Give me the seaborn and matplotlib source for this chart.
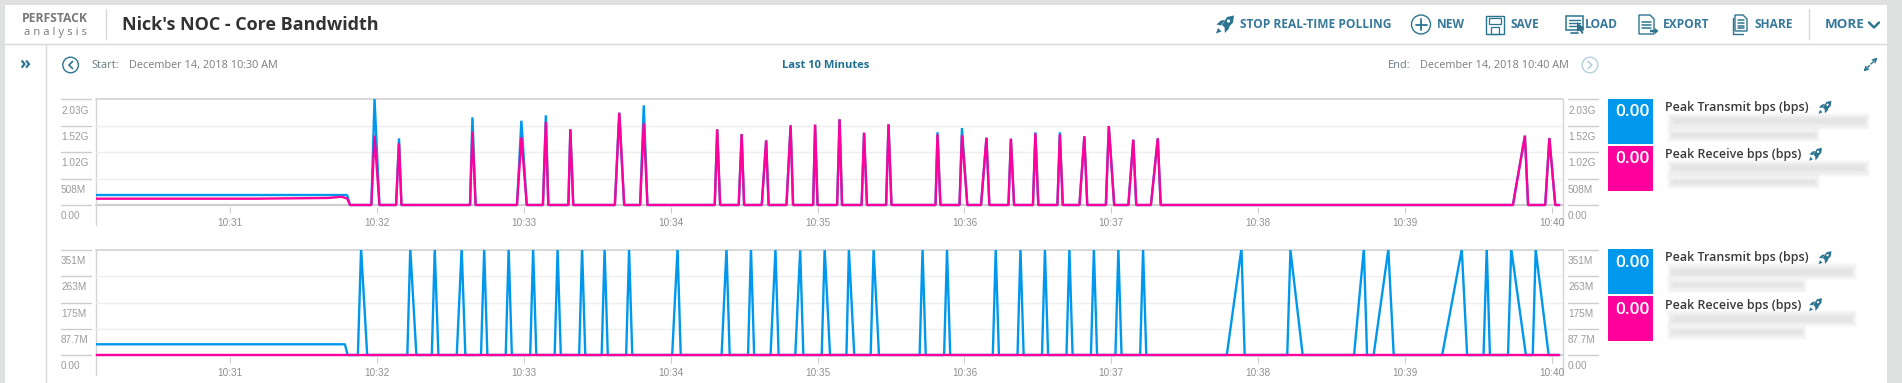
import pandas as pd
import matplotlib
matplotlib.use('Agg')
import matplotlib.pyplot as plt
import seaborn as sns
from matplotlib.patches import Rectangle, Circle, Polygon

W, H = 1902, 383
BLUE = '#0098ec'
PINK = '#ff009c'
TEAL = '#2b7490'

# seconds after 10:30, values in Mbps
top_start_sec = [5, 70, 100, 105.5, 107.8, 109]
top_tx_start = [192, 192, 192, 192, 192, 0]
top_rx_start = [121, 121, 135, 159, 125, 0]

top_peak_sec = [119, 129, 159, 179, 189, 199, 219, 229, 259, 269, 279, 289, 299, 309,
                319, 329, 349, 359, 369, 379, 389, 399, 409, 419, 429, 439, 589, 599]
top_before = [1.3, 1.2, 1, 1.8, 1.2, 0.8, 1.8, 1.5, 1, 1.2, 1.8, 1.7, 0.8, 1,
              1, 1, 0.8, 1, 2.2, 1, 1, 1, 2, 1.2, 2, 2.8, 4.9, 1.7]
top_after = [2, 1, 1.3, 2.2, 1, 1.2, 2, 1.5, 1.2, 1, 1, 1, 1, 1,
             1.2, 1.2, 1.2, 2.2, 1.2, 1.3, 1.2, 1.2, 1.2, 2.2, 1.2, 1.2, 1.3, 2.4]
top_tx_peak = [2040, 1280, 1684, 1619, 1722, 1453, 1772, 1914, 1453, 1363, 1242, 1530, 1542, 1645,
               1388, 1549, 1396, 1478, 1292, 1273, 1396, 1396, 1319, 1517, 1254, 1280, 1331, 1286]
top_rx_peak = [1331, 1184, 1408, 1299, 1594, 1453, 1772, 1568, 1453, 1363, 1242, 1530, 1542, 1645,
               1388, 1549, 1357, 1338, 1292, 1273, 1376, 1357, 1319, 1517, 1254, 1280, 1331, 1286]

bot_start_sec = [5, 106.9, 108]
bot_tx_start = [35.7, 35.7, 0]
bot_rx_start = [0, 0, 0]

bot_peak_sec = [113.5, 133.6, 143.6, 154.6, 163.8, 173.8, 183.8, 193.8, 203.8, 213, 223,
                242.8, 262.8, 272.8, 282.8, 292.9, 302.9, 312.8, 322.9, 342.9, 352.9,
                372.8, 382.9, 392.9, 402.9, 412.9, 422.9, 433, 473.2, 493.2, 523.2,
                533.2, 563.2, 573.4, 583.4, 593.4]
bot_before = [1.3, 1.2, 1.2, 2, 1.3, 1.2, 1.2, 1.2, 1.2, 1.2, 1.2,
              2.2, 2, 1.2, 2, 2, 1.2, 1, 1.2, 1.2, 1.2,
              1.2, 1.2, 1.2, 1.2, 1.2, 1.2, 1.2, 6, 1.3, 4,
              6, 8, 1.3, 1.3, 1.2]
bot_after = [2.5, 2.5, 1.5, 1.5, 1.3, 1.3, 1.3, 1.3, 1.3, 1.3, 1.3,
             1.3, 1.3, 1.3, 1.3, 1.3, 2.2, 2.2, 2.2, 1.3, 1.3,
             1.3, 1.3, 1.3, 1.3, 1.3, 1.3, 1.3, 1.3, 5, 1.3,
             2.2, 2.2, 1.3, 6, 5.3]
bot_tx_peak = [355, 355, 352, 355, 352, 355, 352, 352, 355, 355, 352,
               355, 355, 355, 352, 349, 355, 352, 352, 352, 352,
               352, 355, 352, 352, 352, 352, 352, 355, 350, 355,
               352, 352, 355, 355, 350]
end_sec = 603

tick_sec = [60, 120, 180, 240, 300, 360, 420, 480, 540, 600]
tick_labels = ['10:31', '10:32', '10:33', '10:34', '10:35', '10:36', '10:37', '10:38', '10:39', '10:40']
top_ticks = [0, 508, 1020, 1520, 2030]
top_tick_labels = ['0.00', '508M', '1.02G', '1.52G', '2.03G']
bot_ticks = [0, 87.7, 175, 263, 351]
bot_tick_labels = ['0.00', '87.7M', '175M', '263M', '351M']


def spikes(start_sec, start_val, peak_sec, before, after, peak_val):
    # flat start, then triangle for each peak back down to zero
    secs = list(start_sec)
    vals = list(start_val)
    for p, b, a, v in zip(peak_sec, before, after, peak_val):
        secs += [p - b, p, p + a]
        vals += [0, v, 0]
    secs.append(end_sec)
    vals.append(0)
    return secs, vals


def series_frame(tx, rx):
    a = pd.DataFrame({'sec': tx[0], 'mbps': tx[1], 'series': 'Peak Transmit bps (bps)'})
    b = pd.DataFrame({'sec': rx[0], 'mbps': rx[1], 'series': 'Peak Receive bps (bps)'})
    return pd.concat([a, b], ignore_index=True)


top_df = series_frame(
    spikes(top_start_sec, top_tx_start, top_peak_sec, top_before, top_after, top_tx_peak),
    spikes(top_start_sec, top_rx_start, top_peak_sec, top_before, top_after, top_rx_peak))
bot_df = series_frame(
    spikes(bot_start_sec, bot_tx_start, bot_peak_sec, bot_before, bot_after, bot_tx_peak),
    (bot_start_sec + [end_sec], bot_rx_start + [0]))

sns.set_theme(style='white')
plt.rcParams['font.family'] = ['Open Sans', 'DejaVu Sans']

fig = plt.figure(figsize=(W / 100, H / 100), dpi=100, facecolor='#dfe1e1')
bg = fig.add_axes([0, 0, 1, 1], zorder=0)
bg.set_xlim(0, W)
bg.set_ylim(H, 0)
bg.axis('off')
fg = fig.add_axes([0, 0, 1, 1], zorder=5)
fg.set_xlim(0, W)
fg.set_ylim(H, 0)
fg.axis('off')
fg.patch.set_alpha(0)

bg.add_patch(Rectangle((5, 5), 1882, H, color='white', lw=0))
bg.plot([5, 1887], [44.3, 44.3], color='#d9d9d9', lw=1)
bg.plot([45.7, 45.7], [44.3, H], color='#d9d9d9', lw=1)
bg.plot([105.5, 105.5], [9, 39], color='#d9d9d9', lw=1)
bg.plot([1809, 1809], [9, 39], color='#d9d9d9', lw=1)


def poly(pts, x, y, s=1.0, color=TEAL):
    fg.add_patch(Polygon([(x + a * s, y + b * s) for a, b in pts], color=color, lw=0))


def rocket(x, y, s=1.0):
    poly([(9, -9), (8, -2), (1.5, 5), (-3, 0.5), (2, -7.5)], x, y, s)
    poly([(-8.5, 0), (-4, -4), (0, -4.5), (-4, 1)], x, y, s)
    poly([(0, 8.5), (4, 4), (4.5, 0), (-0.5, 4)], x, y, s)
    poly([(-9, 9), (-7, 3.5), (-3.5, 7)], x, y, s)
    fg.add_patch(Circle((x + 3.5 * s, y - 3.5 * s), 1.6 * s, color='white', lw=0))


def doc(x0, y0, x1, y1, rows):
    fg.add_patch(Polygon([(x0, y0), (x1 - 4, y0), (x1, y0 + 4), (x1, y1), (x0, y1)], fill=False, ec=TEAL, lw=1))
    for r in rows:
        fg.plot([x0 + 3, x1 - 3], [r, r], color=TEAL, lw=1.1)


def blur(x0, x1, y, h=17):
    # stand-in for the blurred-out node names
    for i in range(7):
        d = i * 1.1
        bg.add_patch(Rectangle((x0 + d, y - h / 2 + d), x1 - x0 - 2 * d, h - 2 * d, color='#b0b0b0', alpha=0.05, lw=0))


bg.text(55, 19, 'PERFSTACK', fontsize=8.7, fontweight='bold', color='#77797a', ha='center', va='center')
bg.text(55, 32.5, 'a n a l y s i s', fontsize=8.2, color='#77797a', ha='center', va='center')
bg.text(122, 25, "Nick's NOC - Core Bandwidth", fontsize=13, fontweight='bold', color='#333333', va='center')

toolbar = [(1240, 'STOP REAL-TIME POLLING'), (1437, 'NEW'), (1510.6, 'SAVE'), (1585, 'LOAD'),
           (1663, 'EXPORT'), (1754.6, 'SHARE'), (1824.6, 'MORE')]
for x, label in toolbar:
    size = 9.6 if label == 'MORE' else 8.6
    bg.text(x, 25, label, fontsize=size, fontweight='bold', color='#35789a', va='center')
rocket(1225, 24.5, 1.0)

fg.add_patch(Circle((1421, 24.5), 9.5, fill=False, ec=TEAL, lw=1))
fg.plot([1421, 1421], [19, 30], color=TEAL, lw=1.3)
fg.plot([1415.5, 1426.5], [24.5, 24.5], color=TEAL, lw=1.3)

# save
fg.add_patch(Rectangle((1486, 16), 17.5, 17.5, fill=False, ec=TEAL, lw=1))
fg.add_patch(Rectangle((1488.5, 18), 12.5, 5.5, fill=False, ec=TEAL, lw=0.9))
fg.add_patch(Rectangle((1491, 27), 7.5, 6.5, fill=False, ec=TEAL, lw=0.9))
# load
fg.add_patch(Rectangle((1566, 16), 17, 14, fill=False, ec=TEAL, lw=1.1))
for r in [19.5, 22.5, 25.5]:
    fg.plot([1569, 1580], [r, r], color=TEAL, lw=1)
fg.plot([1571, 1578], [33, 33], color=TEAL, lw=1.2)
poly([(0, 0), (0, 10), (2.5, 8), (5, 12), (6.5, 11), (4.5, 7), (7.5, 6.5)], 1577, 22, color='#2f6f8c')
# export
doc(1639, 15, 1654, 34, [21.5, 24.5, 27.5])
poly([(0, -1.2), (5, -1.2), (5, -3), (8.5, 0), (5, 3), (5, 1.2), (0, 1.2)], 1650, 31, color=TEAL)
# share
doc(1735, 15, 1747, 31, [19.5, 22.5, 25.5, 28])
fg.plot([1732.5, 1732.5, 1743], [18, 34, 34], color=TEAL, lw=1)
fg.plot([1869, 1874, 1879], [22.5, 27.5, 22.5], color=TEAL, lw=1.7)

fg.text(25, 64, '»', fontsize=13, color=TEAL, ha='center', va='center', fontweight='bold')
fg.add_patch(Circle((70.6, 65), 7.8, fill=False, ec=TEAL, lw=1))
fg.plot([72.5, 69, 72.5], [61.5, 65, 68.5], color=TEAL, lw=1.2)
fg.add_patch(Circle((1590, 65), 7.8, fill=False, ec='#b5d0da', lw=1))
fg.plot([1588.2, 1591.8, 1588.2], [61.5, 65, 68.5], color='#b5d0da', lw=1.2)
for tail, head in [((1869.5, 65.5), (1863.5, 71.5)), ((1871, 64), (1877.5, 57.5))]:
    fg.annotate('', xy=head, xytext=tail, arrowprops=dict(arrowstyle='->', color=TEAL, lw=1, mutation_scale=7,
                                                         shrinkA=0, shrinkB=0))

bg.text(91, 65.5, 'Start:', fontsize=7.9, color='#667a80', va='center')
bg.text(128.6, 65.5, 'December 14, 2018 10:30 AM', fontsize=7.85, color='#7c7c7c', va='center')
bg.text(826, 66, 'Last 10 Minutes', fontsize=8, fontweight='bold', color='#1f6f94', ha='center', va='center')
bg.text(1387.6, 65.5, 'End:', fontsize=7.9, color='#667a80', va='center')
bg.text(1420, 65.5, 'December 14, 2018 10:40 AM', fontsize=7.85, color='#7c7c7c', va='center')


def panel(df, y_top, y_base, ticks, labels):
    height = y_base - y_top
    pad = 2.2
    unit = ticks[-1] / height
    ax = fig.add_axes([95.5 / W, 1 - (y_base + pad) / H, (1562.6 - 95.5) / W, (height + pad) / H], zorder=3)
    ax.patch.set_alpha(0)
    sns.lineplot(data=df, x='sec', y='mbps', hue='series', sort=False, estimator=None, errorbar=None,
                 palette={'Peak Transmit bps (bps)': BLUE, 'Peak Receive bps (bps)': PINK},
                 linewidth=1.7, legend=False, ax=ax)
    for line in ax.get_lines():
        line.set_solid_joinstyle('bevel')
    ax.set_xlim(5, 604.4)
    ax.set_ylim(-pad * unit, ticks[-1])
    ax.set_xlabel('')
    ax.set_ylabel('')
    ax.set_xticks(tick_sec)
    ax.set_xticklabels(tick_labels, fontfamily='Liberation Sans', fontsize=7.2, color='#8f8f8f')
    ax.tick_params(axis='x', length=4.5, width=0.8, color='#cccccc', pad=3.5, bottom=True)
    ax.set_yticks([])
    for s in ax.spines.values():
        s.set_visible(False)
    width = 1562.6 - 95.5
    for i, (v, lab) in enumerate(zip(ticks, labels)):
        if 0 < i < len(ticks) - 1:
            ax.axhline(v, color='#eeeeee', lw=1, zorder=0)
        trans = ax.get_yaxis_transform()
        grey = '#cccccc'
        ax.plot([-34.5 / width, -5 / width], [v, v], transform=trans, clip_on=False, color=grey, lw=1)
        ax.plot([1 + 5.4 / width, 1 + 35 / width], [v, v], transform=trans, clip_on=False, color=grey, lw=1)
        for x, off in [(0, -34.5), (1, 5.4)]:
            ax.annotate(lab, xy=(x, v), xycoords=trans, xytext=(off, -11.3), textcoords='offset pixels',
                        fontfamily='Liberation Sans', fontsize=7.2, color='#9a9a9a', va='center')
    # frame: grey rule on top and at zero, side rules run past the time labels
    bg.plot([95.5, 1562.6], [y_top, y_top], color='#d8d8d8', lw=1.4)
    bg.plot([95.5, 1562.6], [y_base, y_base], color='#cfcfcf', lw=1.6)
    bg.plot([95.5, 95.5], [y_top, y_base + 19.5], color='#d4d4d4', lw=1)
    bg.plot([1562.6, 1562.6], [y_top, y_base + 19.5], color='#d4d4d4', lw=1)

    # value tiles and names on the right
    y0 = y_top - 0.5
    for k, (col, name, rx) in enumerate([(BLUE, 'Peak Transmit bps (bps)', 1825),
                                         (PINK, 'Peak Receive bps (bps)', 1815.5)]):
        yy = y0 + k * 47
        bg.add_patch(Rectangle((1608, yy), 45, 45, color=col, lw=0))
        bg.text(1632.5, yy + 13.6, '0.00', color='white', fontsize=12.4, fontweight='semibold', ha='center', va='center')
        right = 1870 if y_top < 200 else 1857
        blur(1667, right, yy + 22.5)
        blur(1667, right - 50, yy + 36, 15)
        bg.text(1665, yy + 8.8, name, color='#3a3a3a', fontsize=9, fontweight='semibold', va='center')
        rocket(rx, yy + 8.5, 0.72)


panel(top_df, 99.3, 205, top_ticks, top_tick_labels)
panel(bot_df, 249.7, 355, bot_ticks, bot_tick_labels)

fig.savefig('out.png', dpi=100, facecolor=fig.get_facecolor())
